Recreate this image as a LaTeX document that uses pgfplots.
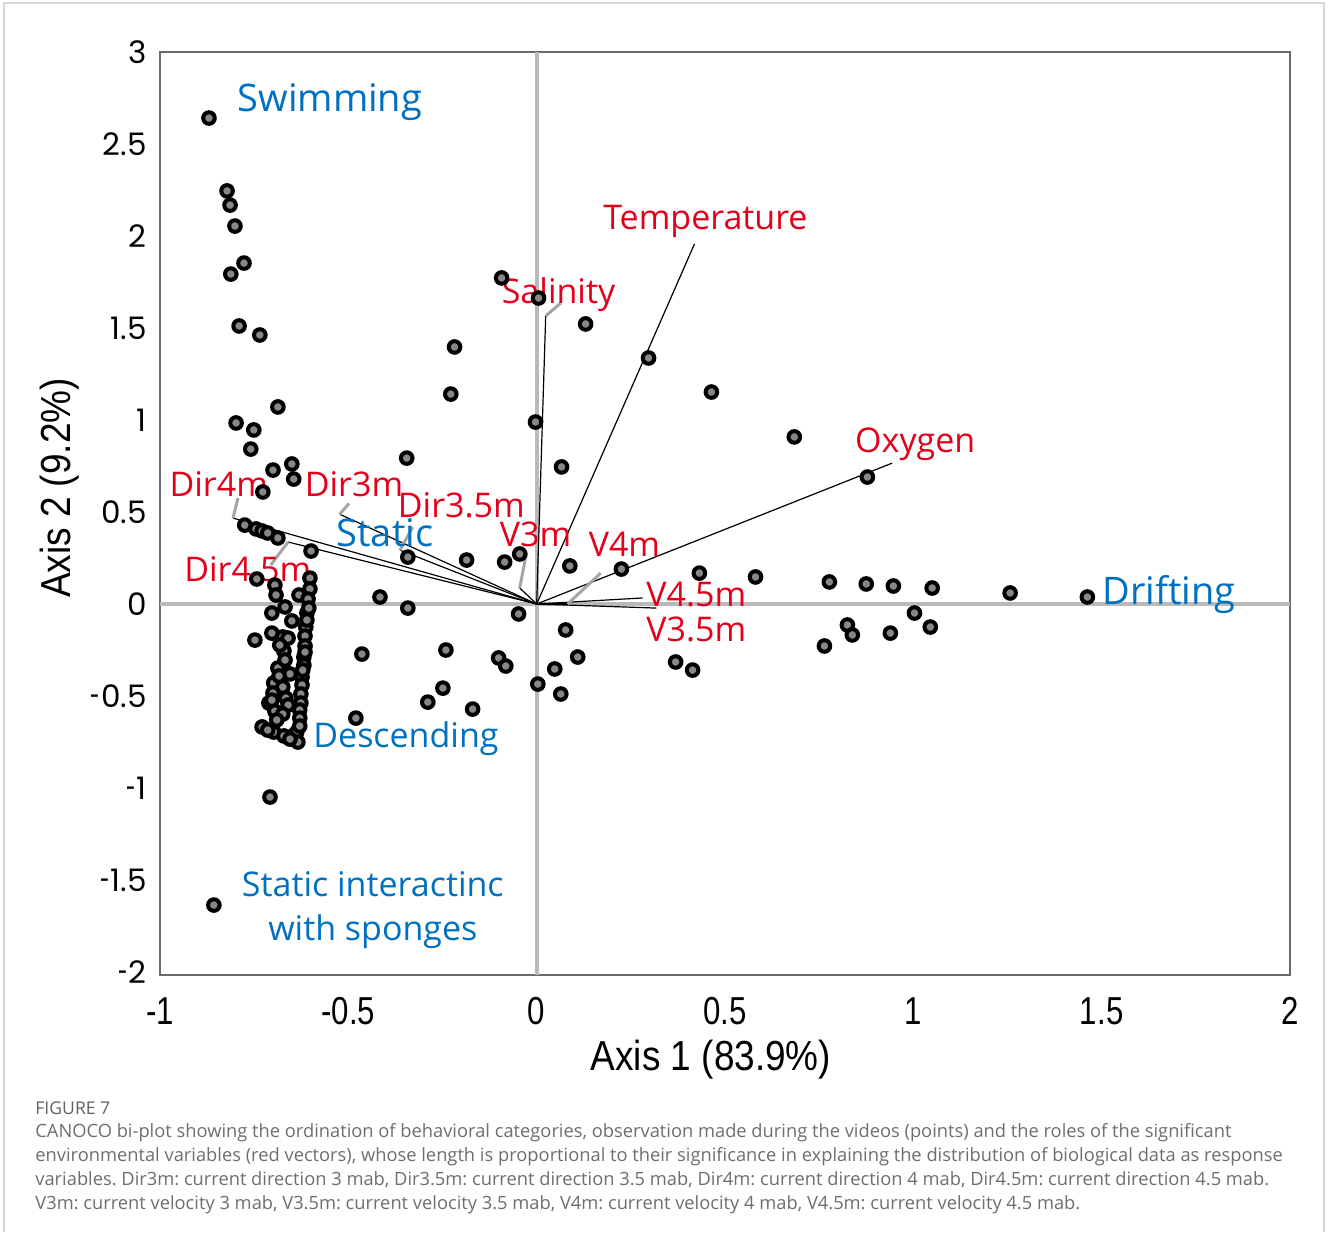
\documentclass[border=0pt]{standalone}
\usepackage{fontspec}
\usepackage{graphicx}
\usepackage{pgfplots}
\usepackage{pgfplotstable}
\pgfplotsset{compat=1.18}
\setmainfont{Open Sans}
\newfontfamily\labfont{Open Sans}
\newfontfamily\tickx[FakeStretch=0.8]{Liberation Sans}
\newfontfamily\titlefont[FakeStretch=0.88]{Liberation Sans}
\newfontfamily\ticky{Poppins}
\definecolor{labblue}{RGB}{0,112,192}
\definecolor{labred}{RGB}{228,0,27}
\definecolor{zerogray}{RGB}{185,185,185}
\definecolor{leadgray}{RGB}{165,165,165}
\definecolor{markgray}{RGB}{135,135,135}
\definecolor{framegray}{RGB}{105,105,105}
\definecolor{capgray}{RGB}{110,110,110}
\definecolor{outergray}{RGB}{215,215,215}
\newcommand\bluef{\labfont\fontsize{19}{22}\selectfont}
\newcommand\bluesf{\labfont\fontsize{17}{22}\selectfont}
\newcommand\redf{\labfont\fontsize{17}{20}\selectfont}
\newcommand\nm{\scalebox{0.55}[1]{-}\kern0.5pt}

\pgfplotstableread{
x y
-0.870 2.641
-0.822 2.245
-0.814 2.168
-0.801 2.054
-0.777 1.853
-0.812 1.793
-0.790 1.511
-0.735 1.462
-0.687 1.071
-0.798 0.984
-0.751 0.946
-0.759 0.842
-0.650 0.761
-0.700 0.728
-0.645 0.679
-0.727 0.609
-0.775 0.429
-0.745 0.408
-0.729 0.397
-0.714 0.386
-0.687 0.359
-0.599 0.288
-0.743 0.136
-0.695 0.103
-0.602 0.141
-0.602 0.082
-0.631 0.049
-0.607 0.027
-0.692 0.049
-0.668 -0.016
-0.703 -0.049
-0.610 -0.049
-0.650 -0.092
-0.613 -0.125
-0.703 -0.158
-0.748 -0.196
-0.674 -0.179
-0.660 -0.185
-0.615 -0.174
-0.615 -0.228
-0.671 -0.255
-0.618 -0.288
-0.618 -0.332
-0.687 -0.348
-0.655 -0.380
-0.623 -0.397
-0.698 -0.429
-0.674 -0.451
-0.623 -0.440
-0.700 -0.484
-0.626 -0.489
-0.666 -0.511
-0.711 -0.538
-0.660 -0.549
-0.626 -0.538
-0.695 -0.582
-0.674 -0.598
-0.629 -0.576
-0.629 -0.620
-0.729 -0.668
-0.698 -0.696
-0.671 -0.717
-0.647 -0.717
-0.637 -0.696
-0.634 -0.750
-0.708 -1.049
-0.857 -1.636
-0.605 -0.022
-0.610 -0.087
-0.615 -0.261
-0.621 -0.359
-0.629 -0.663
-0.682 -0.223
-0.668 -0.304
-0.684 -0.391
-0.703 -0.522
-0.690 -0.630
-0.714 -0.685
-0.655 -0.734
-0.416 0.038
-0.342 -0.022
-0.342 0.255
-0.345 0.793
-0.186 0.239
-0.085 0.228
-0.045 0.272
-0.048 -0.054
0.088 0.207
0.225 0.190
0.077 -0.141
-0.464 -0.272
-0.241 -0.250
-0.101 -0.293
-0.082 -0.337
0.109 -0.288
0.048 -0.353
0.369 -0.315
0.414 -0.359
0.003 -0.435
0.064 -0.489
-0.249 -0.457
-0.289 -0.533
-0.170 -0.571
-0.480 -0.620
-0.093 1.772
0.005 1.663
0.130 1.522
-0.218 1.397
0.297 1.337
0.464 1.152
-0.228 1.141
-0.003 0.989
0.066 0.745
0.684 0.908
0.878 0.690
0.432 0.168
0.581 0.147
0.777 0.120
0.875 0.109
0.947 0.098
1.050 0.087
1.257 0.060
1.462 0.038
1.003 -0.049
0.825 -0.114
0.838 -0.168
0.939 -0.158
1.045 -0.125
0.764 -0.228
}\pointsdata

\begin{document}
\begin{tikzpicture}
\path[use as bounding box] (0,0) rectangle (664pt,616pt);
\fill[white] (0,0) rectangle (664pt,616pt);
\draw[outergray, line width=0.8pt] (2pt,0pt) -- (2pt,614.5pt) -- (662pt,614.5pt) -- (662pt,0pt);
\begin{axis}[
  at={(80pt,128.5pt)}, anchor=south west,
  scale only axis, width=565pt, height=461.5pt,
  xmin=-1, xmax=2, ymin=-2.016, ymax=3,
  axis line style={framegray, line width=0.8pt},
  xtick={-1,-0.5,0,0.5,1,1.5,2},
  xticklabels={-1,-0.5,0,0.5,1,1.5,2},
  ytick={-2,-1.5,-1,-0.5,0,0.5,1,1.5,2,2.5,3},
  yticklabels={\nm2,\nm1.5,\nm1,\nm0.5,0,0.5,1,1.5,2,2.5,3},
  major tick length=0pt,
  xticklabel style={font=\tickx\fontsize{19.5}{20}\selectfont, anchor=center, yshift=-18pt},
  yticklabel style={font=\ticky\fontsize{15.5}{18}\selectfont, anchor=east, inner sep=0pt, xshift=-6.5pt},
  xlabel={Axis 1 (83.9\%)},
  ylabel={Axis 2 (9.2\%)},
  xlabel style={font=\titlefont\fontsize{21}{24}\selectfont, at={(axis description cs:0.4876,-0.0921)}, anchor=center},
  ylabel style={font=\titlefont\fontsize{21}{24}\selectfont, at={(axis description cs:-0.0885,0.5276)}, anchor=center},
]
% zero lines
\addplot[zerogray, line width=2pt] coordinates {(-1,0) (2,0)};
\addplot[zerogray, line width=2pt] coordinates {(0,-2.016) (0,3)};
% environmental vectors
\addplot[black, line width=0.6pt] coordinates {(0,0) (0.419,1.957)};
\addplot[black, line width=0.6pt] coordinates {(0,0) (0.024,1.565)};
\addplot[black, line width=0.6pt] coordinates {(0,0) (0.944,0.766)};
\addplot[black, line width=0.6pt] coordinates {(0,0) (-0.806,0.467)};
\addplot[black, line width=0.6pt] coordinates {(0,0) (-0.523,0.488)};
\addplot[black, line width=0.6pt] coordinates {(0,0) (-0.363,0.293)};
\addplot[black, line width=0.6pt] coordinates {(0,0) (-0.660,0.337)};
\addplot[black, line width=0.6pt] coordinates {(0,0) (-0.045,0.087)};
\addplot[black, line width=0.6pt] coordinates {(0,0) (0.082,0.0)};
\addplot[black, line width=0.6pt] coordinates {(0,0) (0.281,0.033)};
\addplot[black, line width=0.6pt] coordinates {(0,0) (0.318,-0.022)};
% label leaders
\addplot[leadgray, line width=1.5pt] coordinates {(0.024,1.565) (0.064,1.636)};
\addplot[leadgray, line width=1.5pt] coordinates {(-0.806,0.467) (-0.793,0.576)};
\addplot[leadgray, line width=1.5pt] coordinates {(-0.523,0.488) (-0.498,0.547)};
\addplot[leadgray, line width=1.5pt] coordinates {(-0.363,0.293) (-0.329,0.418)};
\addplot[leadgray, line width=1.5pt] coordinates {(-0.660,0.337) (-0.706,0.212)};
\addplot[leadgray, line width=1.5pt] coordinates {(-0.045,0.087) (-0.027,0.277)};
\addplot[leadgray, line width=1.5pt] coordinates {(0.082,0.0) (0.170,0.168)};
% observations
\addplot[only marks, mark=*, mark size=2.9pt, mark options={fill=markgray, draw=black, line width=2pt}] table[x=x,y=y] {\pointsdata};
% labels
\node[font=\bluef, text=labblue] at (axis cs:-0.549,2.728) {Swimming};
\node[font=\bluef, text=labblue] at (axis cs:-0.403,0.386) {Static};
\node[font=\bluef, text=labblue] at (axis cs:1.679,0.049) {Drifting};
\node[font=\bluesf, text=labblue] at (axis cs:-0.347,-0.734) {Descending};
\node[font=\bluesf, text=labblue, align=center] at (axis cs:-0.435,-1.663) {Static interactinc\\with sponges};
\node[font=\redf, text=labred] at (axis cs:0.448,2.080) {Temperature};
\node[font=\redf, text=labred] at (axis cs:0.058,1.680) {Salinity};
\node[font=\redf, text=labred] at (axis cs:1.005,0.870) {Oxygen};
\node[font=\redf, text=labred] at (axis cs:-0.844,0.652) {Dir4m};
\node[font=\redf, text=labred] at (axis cs:-0.485,0.652) {Dir3m};
\node[font=\redf, text=labred] at (axis cs:-0.200,0.536) {Dir3.5m};
\node[font=\redf, text=labred] at (axis cs:-0.003,0.380) {V3m};
\node[font=\redf, text=labred] at (axis cs:0.233,0.326) {V4m};
\node[font=\redf, text=labred] at (axis cs:-0.767,0.190) {Dir4.5m};
\node[font=\redf, text=labred] at (axis cs:0.424,0.054) {V4.5m};
\node[font=\redf, text=labred] at (axis cs:0.424,-0.136) {V3.5m};
\end{axis}
% caption
\frenchspacing
\node[anchor=base west, inner sep=0pt, text=capgray!90!black, font=\fontsize{8.8}{10}\selectfont] at (17.5pt,59pt) {FIGURE 7};
\node[anchor=base west, inner sep=0pt, text=capgray, font=\fontsize{9.15}{11}\selectfont] at (17.5pt,47.25pt) {CANOCO bi-plot showing the ordination of behavioral categories, observation made during the videos (points) and the roles of the significant};
\node[anchor=base west, inner sep=0pt, text=capgray, font=\fontsize{9.15}{11}\selectfont] at (17.5pt,35.25pt) {environmental variables (red vectors), whose length is proportional to their significance in explaining the distribution of biological data as response};
\node[anchor=base west, inner sep=0pt, text=capgray, font=\fontsize{9.15}{11}\selectfont] at (17.5pt,23.25pt) {variables. Dir3m: current direction 3 mab, Dir3.5m: current direction 3.5 mab, Dir4m: current direction 4 mab, Dir4.5m: current direction 4.5 mab.};
\node[anchor=base west, inner sep=0pt, text=capgray, font=\fontsize{9.15}{11}\selectfont] at (17.5pt,11.25pt) {V3m: current velocity 3 mab, V3.5m: current velocity 3.5 mab, V4m: current velocity 4 mab, V4.5m: current velocity 4.5 mab.};
\end{tikzpicture}
\end{document}
